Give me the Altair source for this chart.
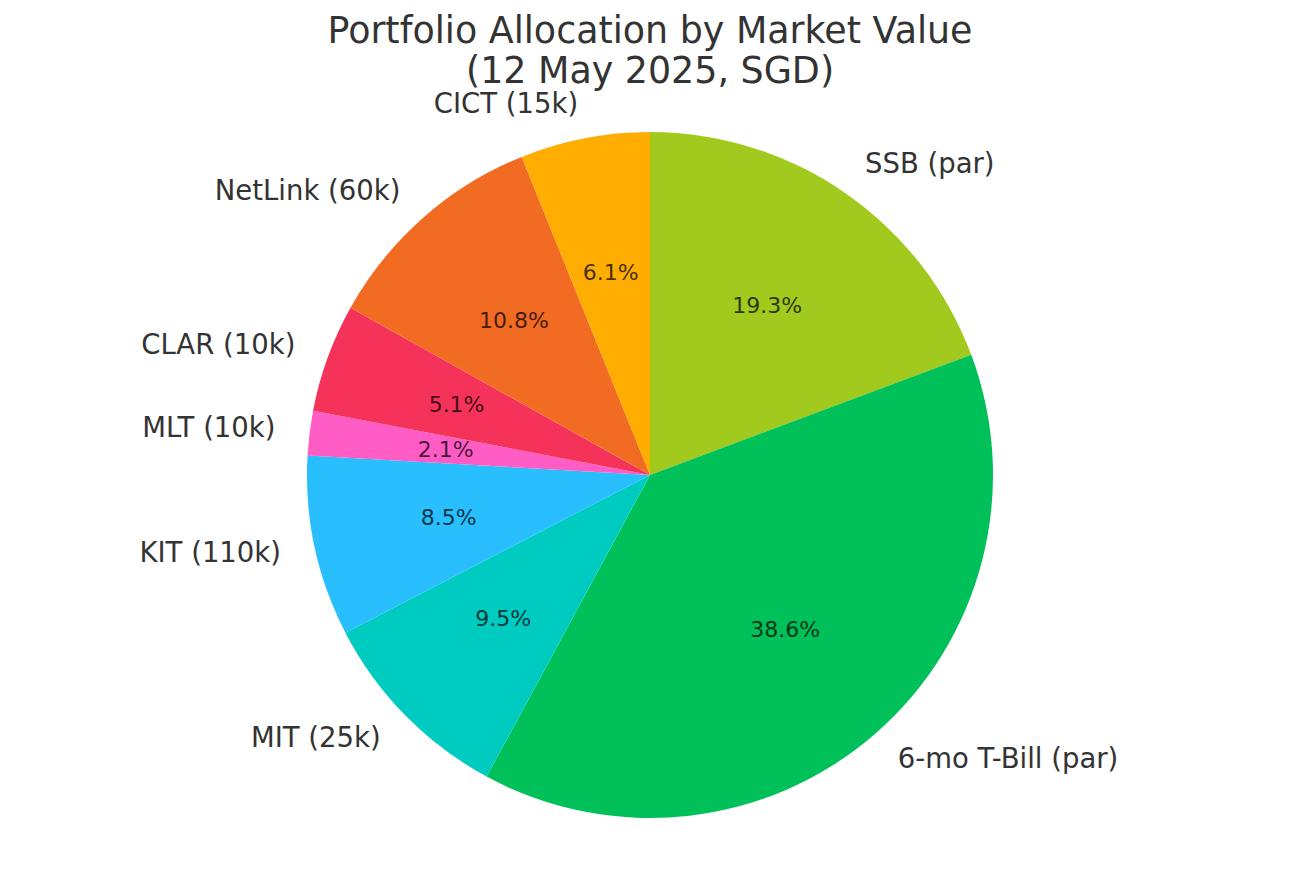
import altair as alt
import pandas as pd

names = ["SSB (par)", "6-mo T-Bill (par)", "MIT (25k)", "KIT (110k)",
         "MLT (10k)", "CLAR (10k)", "NetLink (60k)", "CICT (15k)"]
shares = [19.3, 38.6, 9.5, 8.5, 2.1, 5.1, 10.8, 6.1]
colors = ["#a2c91d", "#00c05a", "#00cbc0", "#29bfff",
          "#ff5cc6", "#f5335a", "#f26b23", "#ffad00"]
title_lines = ["Portfolio Allocation by Market Value", "(12 May 2025, SGD)"]

df = pd.DataFrame({"name": names, "share": shares, "idx": list(range(len(names)))})

FONT = "DejaVu Sans"
CX, CY = 642, 367
R = 343

base = alt.Chart(df).encode(
    theta=alt.Theta("share:Q", stack=True),
    order=alt.Order("idx:Q"),
    x=alt.value(CX),
    y=alt.value(CY),
)

pie = base.mark_arc(outerRadius=R).encode(
    color=alt.Color("name:N", scale=alt.Scale(domain=names, range=colors), legend=None)
)

pct = base.mark_text(radius=R * 0.6, fontSize=22, font=FONT, color="black",
                     opacity=0.72, baseline="middle", align="center").transform_calculate(
    pct="format(datum.share, '.1f') + '%'"
).encode(text="pct:N")

sided = base.transform_joinaggregate(total="sum(share)").transform_window(
    cum="sum(share)", sort=[alt.SortField("idx")]
).transform_calculate(
    mid="datum.cum - datum.share / 2",
    rlabel="datum.mid < datum.total / 2 ? datum.name : ''",
    llabel="datum.mid >= datum.total / 2 ? datum.name : ''",
)

right = sided.mark_text(radius=R * 1.1, fontSize=27.5, font=FONT, color="#333333",
                        align="left", baseline="middle").encode(text="rlabel:N")
left = sided.mark_text(radius=R * 1.1, fontSize=27.5, font=FONT, color="#333333",
                       align="right", baseline="middle").encode(text="llabel:N")

chart = alt.layer(pie, pct, right, left).properties(
    width=1284,
    height=754,
    background="white",
    autosize=alt.AutoSizeParams(type="none"),
    padding={"top": 100, "left": 0, "right": 0, "bottom": 0},
    title=alt.TitleParams(title_lines, fontSize=36.4, font=FONT, fontWeight="normal",
                          color="#333333", anchor="middle", lineHeight=40, offset=0),
).configure_view(stroke=None, strokeWidth=0)

chart.save("out.html", embed_options={"renderer": "svg", "actions": False})
